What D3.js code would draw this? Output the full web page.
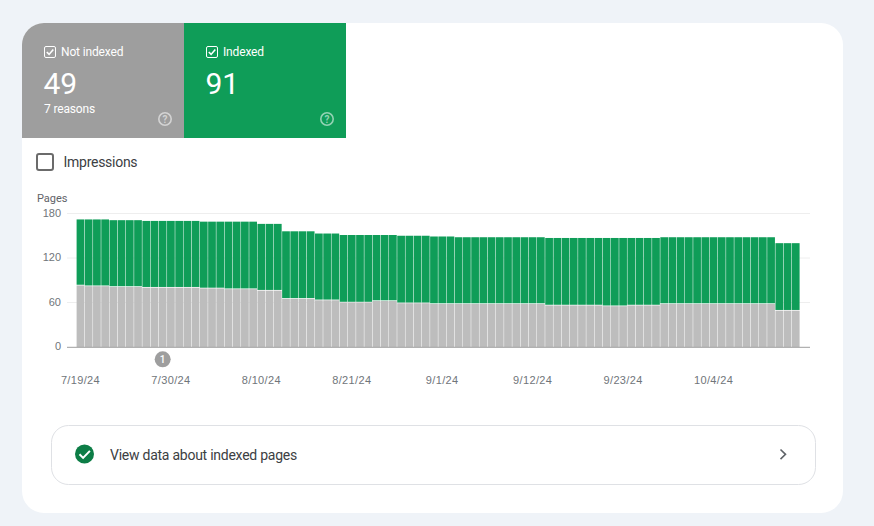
<!DOCTYPE html>
<html>
<head>
<meta charset="utf-8">
<script src="https://cdn.jsdelivr.net/npm/d3@7"></script>
<style>
  html, body { margin: 0; padding: 0; background: #eff3f8; }
  svg { display: block; font-family: Roboto, sans-serif; }
  .y-axis text, .x-axis text { font-size: 11px; fill: #70757a; }
  .x-axis text { letter-spacing: 0.35px; }
  .y-axis .domain, .x-axis .domain, .x-axis line, .y-axis line { stroke: none; }
</style>
</head>
<body>
<svg id="plot" width="874" height="526"></svg>
<script>
const notIndexed = [
  83, 82, 82, 82, 81, 81, 81, 81, 80, 80, 80, 80, 80, 80, 80,
  79, 79, 79, 78, 78, 78, 78, 76, 76, 76, 65, 65, 65, 65,
  63, 63, 63, 60, 60, 60, 60, 62, 62, 62, 59, 59, 59, 59,
  58, 58, 58, 58, 58, 58, 58, 58, 58, 58, 58, 58, 58, 58,
  56, 56, 56, 56, 56, 56, 56, 55, 55, 55, 56, 56, 56, 56,
  58, 58, 58, 58, 58, 58, 58, 58, 58, 58, 58, 58, 58, 58,
  49, 49, 49
];
const indexed = [
  89, 90, 90, 90, 90, 90, 90, 90, 90, 90, 90, 90, 90, 90, 90,
  90, 90, 90, 91, 91, 91, 91, 90, 90, 90, 91, 91, 91, 91,
  90, 90, 90, 91, 91, 91, 91, 89, 89, 89, 91, 91, 91, 91,
  91, 91, 91, 90, 90, 90, 90, 90, 90, 90, 90, 90, 90, 90,
  91, 91, 91, 91, 91, 91, 91, 92, 92, 92, 91, 91, 91, 91,
  90, 90, 90, 90, 90, 90, 90, 90, 90, 90, 90, 90, 90, 90,
  91, 91, 91
];
const yTicks = [0, 60, 120, 180];
const xTickLabels = ["7/19/24", "7/30/24", "8/10/24", "8/21/24", "9/1/24", "9/12/24", "9/23/24", "10/4/24"];
const xTickDays = [0, 11, 22, 33, 44, 55, 66, 77];
const annotationDay = 10;

const svg = d3.select("#plot");

// card and tiles
svg.append("rect")
  .attr("x", 22).attr("y", 23)
  .attr("width", 821).attr("height", 490)
  .attr("rx", 22)
  .attr("fill", "#fff");

svg.append("path")
  .attr("d", "M22 138V45a22 22 0 0 1 22-22H184V138Z")
  .attr("fill", "#9e9e9e");

svg.append("rect")
  .attr("x", 184).attr("y", 23)
  .attr("width", 162).attr("height", 115)
  .attr("fill", "#0f9d58");

function drawTile(x, label, value, sub) {
  const g = svg.append("g").attr("transform", `translate(${x},0)`);

  g.append("rect")
    .attr("x", 0.5).attr("y", 46.5)
    .attr("width", 11).attr("height", 11)
    .attr("rx", 1.5)
    .attr("fill", "none")
    .attr("stroke", "#fff");
  g.append("path")
    .attr("d", "M2.8 52l2.3 2.4 4.2-5")
    .attr("fill", "none")
    .attr("stroke", "#fff")
    .attr("stroke-width", 1.6);

  g.append("text")
    .attr("x", 17).attr("y", 56)
    .attr("font-size", 12).attr("fill", "#fff")
    .attr("letter-spacing", -0.15)
    .text(label);
  g.append("text")
    .attr("x", -0.5).attr("y", 94)
    .attr("font-size", 30).attr("fill", "#fff")
    .text(value);
  if (sub) {
    g.append("text")
      .attr("x", 0).attr("y", 113)
      .attr("font-size", 12).attr("fill", "#fff")
      .attr("letter-spacing", -0.15)
      .text(sub);
  }

  // help icon
  g.append("circle")
    .attr("cx", 121).attr("cy", 119)
    .attr("r", 6.2)
    .attr("fill", "none")
    .attr("stroke", "#fff").attr("stroke-opacity", 0.55)
    .attr("stroke-width", 1.6);
  g.append("text")
    .attr("x", 121).attr("y", 122.8)
    .attr("text-anchor", "middle")
    .attr("font-size", 10).attr("font-weight", 700)
    .attr("fill", "#fff").attr("fill-opacity", 0.55)
    .text("?");
}

drawTile(44, "Not indexed", "49", "7 reasons");
drawTile(206, "Indexed", "91", null);

// impressions checkbox
svg.append("rect")
  .attr("x", 37).attr("y", 154)
  .attr("width", 16).attr("height", 16)
  .attr("rx", 2)
  .attr("fill", "#fff")
  .attr("stroke", "#6b6b6b")
  .attr("stroke-width", 2);

svg.append("text")
  .attr("x", 63.5).attr("y", 167)
  .attr("font-size", 14).attr("fill", "#3c4043")
  .attr("letter-spacing", -0.27)
  .text("Impressions");

// chart
const days = d3.range(notIndexed.length);

const x = d3.scaleBand()
  .domain(days)
  .range([76.6, 799.6])
  .paddingInner(0.06)
  .paddingOuter(0);

const y = d3.scaleLinear()
  .domain([0, 180])
  .range([347, 213.5]);

svg.append("text")
  .attr("x", 37).attr("y", 202)
  .attr("font-size", 11).attr("fill", "#5f6368")
  .attr("letter-spacing", -0.05)
  .text("Pages");

svg.append("g")
  .selectAll("line")
  .data(yTicks.slice(1))
  .join("line")
  .attr("x1", 67).attr("x2", 810)
  .attr("y1", d => y(d)).attr("y2", d => y(d))
  .attr("stroke", "#eeeeee");

svg.append("g")
  .attr("class", "y-axis")
  .attr("transform", "translate(66,-0.7)")
  .call(d3.axisLeft(y).tickValues(yTicks).tickSize(0).tickPadding(5));

svg.append("g")
  .selectAll("rect")
  .data(days)
  .join("rect")
  .attr("x", d => x(d))
  .attr("width", x.bandwidth())
  .attr("y", d => y(notIndexed[d]))
  .attr("height", d => y(0) - y(notIndexed[d]))
  .attr("fill", "#bdbdbd");

svg.append("g")
  .selectAll("rect")
  .data(days)
  .join("rect")
  .attr("x", d => x(d))
  .attr("width", x.bandwidth())
  .attr("y", d => y(notIndexed[d] + indexed[d]))
  .attr("height", d => y(notIndexed[d]) - y(notIndexed[d] + indexed[d]) - 0.7)
  .attr("fill", "#0f9d58");

svg.append("line")
  .attr("x1", 67).attr("x2", 810)
  .attr("y1", y(0) + 0.3).attr("y2", y(0) + 0.3)
  .attr("stroke", "#9e9e9e");

svg.append("g")
  .attr("class", "x-axis")
  .attr("transform", "translate(0,347)")
  .call(d3.axisBottom(x)
    .tickValues(xTickDays)
    .tickFormat((d, i) => xTickLabels[i])
    .tickSize(0)
    .tickPadding(29));

// annotation marker
const marker = svg.append("g")
  .attr("transform", `translate(${x(annotationDay) + x.bandwidth() / 2},359.3)`);
marker.append("circle").attr("r", 8).attr("fill", "#9e9e9e");
marker.append("text")
  .attr("y", 3.5)
  .attr("text-anchor", "middle")
  .attr("font-size", 10).attr("font-weight", 500)
  .attr("fill", "#fff")
  .text("1");

// link row
svg.append("rect")
  .attr("x", 51.5).attr("y", 425.5)
  .attr("width", 764).attr("height", 59)
  .attr("rx", 17)
  .attr("fill", "#fff")
  .attr("stroke", "#dfe1e5");

svg.append("circle")
  .attr("cx", 84.5).attr("cy", 454)
  .attr("r", 9.5)
  .attr("fill", "#0d7d46");
svg.append("path")
  .attr("d", "M79.5 454.3l3.6 3.6 6.8-7")
  .attr("fill", "none")
  .attr("stroke", "#fff")
  .attr("stroke-width", 2);

svg.append("text")
  .attr("x", 110).attr("y", 460)
  .attr("font-size", 14).attr("fill", "#3c4043")
  .attr("letter-spacing", -0.25)
  .text("View data about indexed pages");

svg.append("path")
  .attr("d", "M780.5 449.5l5 4.8-5 4.8")
  .attr("fill", "none")
  .attr("stroke", "#5f6368")
  .attr("stroke-width", 1.6);
</script>
</body>
</html>
